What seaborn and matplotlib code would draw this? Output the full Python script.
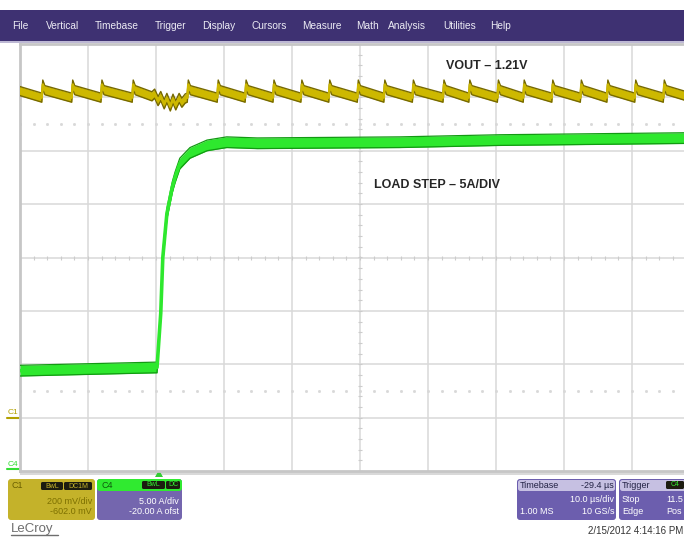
import numpy as np
import pandas as pd
import matplotlib
matplotlib.use("Agg")
import matplotlib.pyplot as plt
from matplotlib.patches import Rectangle, FancyBboxPatch, Polygon
import seaborn as sns

W, H = 684, 538

# menu bar of the scope
menu_items = ["File", "Vertical", "Timebase", "Trigger", "Display", "Cursors",
              "Measure", "Math", "Analysis", "Utilities", "Help"]
menu_x = [12, 46, 95, 155, 202, 252, 302, 356, 388, 443, 490]

# C1 (VOUT) switching ripple: time of each edge (us) and levels (V)
c1_edges = [-20.9, -16.8, -12.4, -8.1, -3.5, 4.6, 9.0, 13.1, 17.2, 21.3, 25.4, 29.6,
            33.5, 37.7, 42.2, 46.0, 50.2, 54.0, 58.2, 62.4, 66.3, 70.4, 74.6, 78.7]
c1_tip = 1.250
c1_top = 1.229
c1_bottom = 1.201
# ringing of VOUT at the load step
c1_ring_t = [-0.6, -0.2, 0.3, 0.7, 1.2, 1.6, 2.1, 2.5, 2.9, 3.4, 3.8, 4.3]
c1_ring_v = [1.206, 1.216, 1.188, 1.207, 1.176, 1.200, 1.168, 1.197, 1.172, 1.200, 1.182, 1.198]

# C4 load current (A)
c4_t = [-20, 0.15, 0.7, 1.0, 1.6, 2.4, 2.8, 3.5, 5.0, 7.5, 10.4, 14.9, 35.9, 50.6, 65.3, 80]
c4_a = [9.4, 9.7, 14.8, 20.0, 24.1, 26.6, 27.5, 28.8, 29.8, 30.5, 30.8, 30.7, 30.8, 31.0, 31.1, 31.2]

# channel settings
c1_vdiv, c1_offset = 0.2, -0.602
c4_adiv, c4_offset = 5.0, -20.0
t_left, t_div = -20.0, 10.0

sns.set_style("white")
plt.rcParams["font.family"] = ["Liberation Sans", "DejaVu Sans"]

fig = plt.figure(figsize=(W / 100, H / 100), dpi=100)
ov = fig.add_axes([0, 0, 1, 1])
ov.set_xlim(0, W)
ov.set_ylim(H, 0)
ov.axis("off")

# ---- grid area ----
PX0, PX1, PY0, PY1 = 20, 700, 44, 471
ax = fig.add_axes([PX0 / W, 1 - PY1 / H, (PX1 - PX0) / W, (PY1 - PY0) / H])
ax.set_xlim(t_left, t_left + 10 * t_div)
ax.set_ylim(-4, 4)
ax.set_xticks([])
ax.set_yticks([])
for s in ax.spines.values():
    s.set_color("#c6c6c6")
    s.set_linewidth(2)
grid_c = "#d9d9d9"
for k in range(1, 10):
    ax.axvline(t_left + k * t_div, color=grid_c, lw=1.1, zorder=0)
for k in range(-3, 4):
    ax.axhline(k, color=grid_c, lw=1.1, zorder=0)
t_mid = t_left + 5 * t_div
xt = np.arange(t_left, t_left + 10 * t_div + 0.01, t_div / 5)
yt = np.arange(-4, 4.01, 0.2)
ax.plot(xt, np.zeros_like(xt), ls="none", marker="|", ms=3, color="#cccccc", mew=0.8, zorder=1)
ax.plot(np.full_like(yt, t_mid), yt, ls="none", marker="_", ms=3, color="#cccccc", mew=0.8, zorder=1)
for yy in (2.5, -2.5):
    ax.plot(xt, np.full_like(xt, yy), ls="none", marker="s", ms=1.0, color="#d8d8d8", zorder=1)

# C1 axis (volts)
v_ax = ax.twinx()
v_center = -c1_offset
v_ax.set_ylim(v_center - 4 * c1_vdiv, v_center + 4 * c1_vdiv)
v_ax.axis("off")

pts = []
for t in c1_edges:
    pts += [(t, c1_bottom), (t + 0.15, c1_tip), (t + 0.45, c1_top)]
pts += list(zip(c1_ring_t, c1_ring_v))
c1 = pd.DataFrame(sorted(pts), columns=["t", "v"])
y_core, y_edge = "#cdb800", "#766900"
hw = 0.017
v_ax.fill_between(c1["t"], c1["v"] - hw, c1["v"] + hw, color=y_core, lw=0)
sns.lineplot(x=c1["t"], y=c1["v"] + hw, ax=v_ax, color=y_edge, lw=1.0, sort=False, estimator=None)
sns.lineplot(x=c1["t"], y=c1["v"] - hw, ax=v_ax, color=y_edge, lw=1.0, sort=False, estimator=None)
sns.lineplot(x=c1["t"], y=c1["v"], ax=v_ax, color=y_core, lw=1.8, sort=False, estimator=None)

# C4 axis (amps)
i_ax = ax.twinx()
i_center = -c4_offset
i_ax.set_ylim(i_center - 4 * c4_adiv, i_center + 4 * c4_adiv)
i_ax.axis("off")
c4 = pd.DataFrame({"t": c4_t, "a": c4_a})
g_core, g_edge = "#2ee82e", "#129a12"
ha = 0.5
i_ax.fill_between(c4["t"], c4["a"] - ha, c4["a"] + ha, color=g_core, lw=0)
sns.lineplot(data=c4, x="t", y=c4["a"] + ha, ax=i_ax, color=g_edge, lw=0.9, sort=False, estimator=None)
sns.lineplot(data=c4, x="t", y=c4["a"] - ha, ax=i_ax, color=g_edge, lw=0.9, sort=False, estimator=None)
sns.lineplot(data=c4, x="t", y="a", ax=i_ax, color=g_core, lw=2.6, sort=False, estimator=None)

for a in (ax, v_ax, i_ax):
    a.set_xlabel("")
    a.set_ylabel("")

# annotations
fig.text(446 / W, 1 - 66 / H, "VOUT \u2013 1.21V", fontsize=9, fontweight="bold", va="center")
fig.text(374 / W, 1 - 185 / H, "LOAD STEP \u2013 5A/DIV", fontsize=9, fontweight="bold", va="center")

# ---- menu bar ----
ov.add_patch(Rectangle((0, 10), W, 31, color="#3e3172", lw=0))
ov.add_patch(Rectangle((0, 41), W, 2, color="#bdb8d4", lw=0))
for name, x in zip(menu_items, menu_x):
    ov.text(x, 26, name, color="#ecebf4", fontsize=7.3, va="center")

# channel ground markers
ov.text(8, 412, "C1", color="#b2a000", fontsize=6, va="center")
ov.plot([7, 19], [418, 418], color="#b2a000", lw=1.5)
ov.text(8, 464, "C4", color="#33dd33", fontsize=6, va="center")
ov.plot([7, 19], [469, 469], color="#33dd33", lw=1.5)
# bottom strip + trigger marker
ov.add_patch(Rectangle((20, 472), W, 3, color="#d9d9d9", lw=0))
ov.add_patch(Polygon([(155, 477), (159, 470), (163, 477)], color="#33cc33", lw=0))


def box(x0, y0, x1, y1, color):
    ov.add_patch(FancyBboxPatch((x0, y0), x1 - x0, y1 - y0,
                                boxstyle="round,pad=0,rounding_size=3", color=color, lw=0))


def tag(x0, x1, y, txt, fg):
    ov.add_patch(FancyBboxPatch((x0, y - 4), x1 - x0, 8,
                                boxstyle="round,pad=0,rounding_size=1.5", color="#1c1c10", lw=0))
    ov.text((x0 + x1) / 2, y, txt, color=fg, fontsize=5, ha="center", va="center")


fs = 6.5
# C1 descriptor
box(8, 479, 95, 520, "#c4b22a")
ov.text(12, 486, "C1", color="#6a5f00", fontsize=fs, va="center")
tag(41, 63, 486, "BwL", "#c4b22a")
tag(64, 92, 486, "DC1M", "#c4b22a")
ov.text(92, 501, "200 mV/div", color="#7d7000", fontsize=fs, ha="right", va="center")
ov.text(92, 512, "-602.0 mV", color="#7d7000", fontsize=fs, ha="right", va="center")

# C4 descriptor
box(97, 479, 182, 520, "#7466ae")
ov.add_patch(FancyBboxPatch((97, 479), 85, 12, boxstyle="round,pad=0,rounding_size=3",
                            color="#30ea30", lw=0))
ov.text(101, 485, "C4", color="#0e5a0e", fontsize=fs, va="center")
tag(142, 165, 485, "BwL", "#30ea30")
tag(166, 180, 485, "DC", "#30ea30")
ov.text(179, 501, "5.00 A/div", color="white", fontsize=fs, ha="right", va="center")
ov.text(179, 512, "-20.00 A ofst", color="white", fontsize=fs, ha="right", va="center")

ov.text(11, 529, "LeCroy", color="#6e6e6e", fontsize=9.5, va="center")
ov.plot([11, 58], [535, 535], color="#6e6e6e", lw=1)

# timebase descriptor
box(517, 479, 616, 520, "#6c5eae")
ov.add_patch(FancyBboxPatch((518, 480), 97, 11, boxstyle="round,pad=0,rounding_size=2.5",
                            color="#c6c0e2", lw=0))
ov.text(520, 485, "Timebase", color="#222244", fontsize=fs, va="center")
ov.text(614, 485, "-29.4 \u00b5s", color="#222244", fontsize=fs, ha="right", va="center")
ov.text(614, 500, "10.0 \u00b5s/div", color="white", fontsize=fs, ha="right", va="center")
ov.text(520, 512, "1.00 MS", color="white", fontsize=fs, va="center")
ov.text(614, 512, "10 GS/s", color="white", fontsize=fs, ha="right", va="center")

# trigger descriptor
box(619, 479, 700, 520, "#6c5eae")
ov.add_patch(FancyBboxPatch((620, 480), 78, 11, boxstyle="round,pad=0,rounding_size=2.5",
                            color="#c6c0e2", lw=0))
ov.text(622, 485, "Trigger", color="#222244", fontsize=fs, va="center")
tag(666, 684, 485, "C4", "#30ea30")
ov.text(622, 500, "Stop", color="white", fontsize=fs, va="center")
ov.text(666, 500, "11.5", color="white", fontsize=fs, va="center")
ov.text(622, 512, "Edge", color="white", fontsize=fs, va="center")
ov.text(666, 512, "Pos", color="white", fontsize=fs, va="center")

ov.text(588, 531, "2/15/2012 4:14:16 PM", color="#333333", fontsize=7, va="center")

fig.savefig("out.png", dpi=100)
